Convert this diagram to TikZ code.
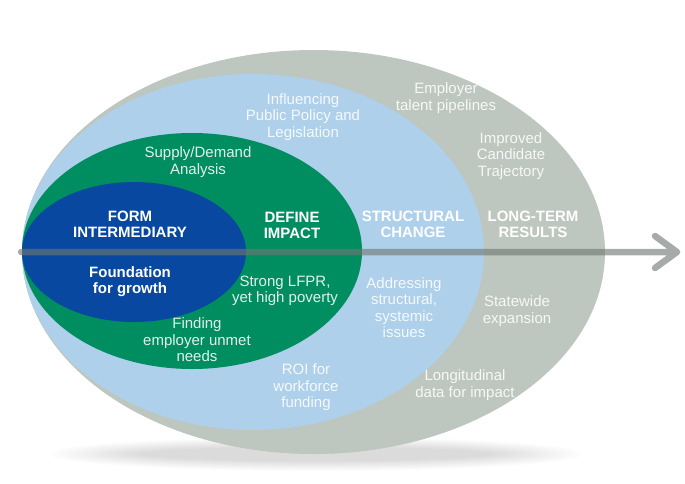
\documentclass[tikz,border=0pt]{standalone}
\usepackage{fontspec}
\setmainfont{Liberation Sans}
\definecolor{outergray}{RGB}{189,198,191}
\definecolor{lightblue}{RGB}{174,208,235}
\definecolor{midgreen}{RGB}{0,141,96}
\definecolor{darkblue}{RGB}{8,72,160}
\definecolor{arrowgray}{RGB}{112,120,116}
\tikzset{
  lbl/.style={text=white, text opacity=0.88, align=center, inner sep=0pt,
              font=\fontsize{15}{16.5}\selectfont},
  ttl/.style={lbl, text opacity=1, font=\bfseries\fontsize{15}{16}\selectfont},
  axis/.style={draw=arrowgray, opacity=0.62, line width=6.5pt,
               line cap=round, line join=round}
}
\begin{document}
\begin{tikzpicture}[x=1pt,y=-1pt]
\useasboundingbox (0,0) rectangle (685,483);
% soft shadow
\foreach \i in {0,...,11}{
  \fill[black,opacity=0.011] (316,454) ellipse [x radius={265pt-\i*8pt}, y radius={17pt-\i*0.9pt}];
}
% rings
\fill[outergray] (313.5,252) ellipse [x radius=291.5pt, y radius=202pt];
\fill[lightblue] (253,252) ellipse [x radius=231pt, y radius=178pt];
\fill[midgreen]  (192,251) ellipse [x radius=170pt, y radius=118pt];
\fill[darkblue]  (134,252) ellipse [x radius=112pt, y radius=70pt];
% axis arrow
\coordinate (tail) at (21,252);
\coordinate (head) at (677,252);
\draw[axis] (tail) -- (head) (head) +(-22,-16) -- (head) -- +(-22,16);
% titles
\node[ttl] (form) at (130,224.5) {FORM\\INTERMEDIARY};
\node[ttl] (found) at (130,281.5) {Foundation\\for growth};
\node[ttl] (define) at (292,225.5) {DEFINE\\IMPACT};
\node[ttl] (struct) at (413,224.5) {STRUCTURAL\\CHANGE};
\node[ttl] (longterm) at (533,224.5) {LONG-TERM\\RESULTS};
% labels
\node[lbl] (supply) at (198,162) {Supply/Demand\\Analysis};
\node[lbl] (strong) at (285,291) {Strong LFPR,\\yet high poverty};
\node[lbl] (finding) at (197,340) {Finding\\employer unmet\\needs};
\node[lbl] (influ) at (303,117) {Influencing\\Public Policy and\\Legislation};
\node[lbl] (address) at (404,307.5) {Addressing\\structural,\\systemic\\issues};
\node[lbl] (roi) at (306,387.5) {ROI for\\workforce\\funding};
\node[lbl] (employer) at (446,98) {Employer\\talent pipelines};
\node[lbl] (improved) at (511,156) {Improved\\Candidate\\Trajectory};
\node[lbl] (statewide) at (517,311) {Statewide\\expansion};
\node[lbl] (longit) at (465,385) {Longitudinal\\data for impact};
\end{tikzpicture}
\end{document}
